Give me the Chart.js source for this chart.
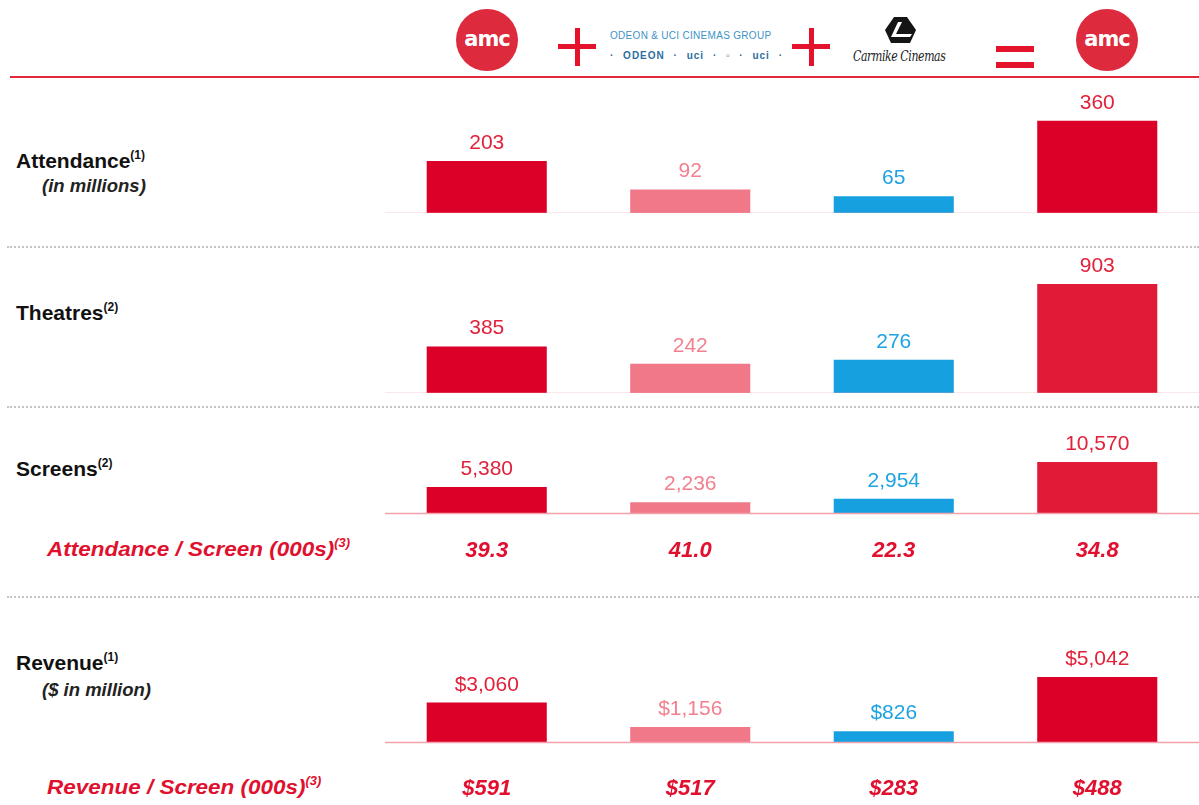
<!DOCTYPE html>
<html>
<head>
<meta charset="utf-8">
<script src="https://cdn.jsdelivr.net/npm/chart.js@4.4.1/dist/chart.umd.min.js"></script>
<style>
  html, body { margin: 0; padding: 0; background: #fff; }
  body { width: 1199px; height: 805px; position: relative; overflow: hidden; font-family: "Liberation Sans", Arial, sans-serif; }
  .abs { position: absolute; }
  canvas { position: absolute; left: 385px; }
  .title { font-weight: bold; font-size: 21px; color: #111; white-space: nowrap; }
  .title sup { font-size: 12px; vertical-align: 9px; }
  .sub { font-weight: bold; font-style: italic; font-size: 18.5px; color: #222; white-space: nowrap; }
  .ratio { font-weight: bold; font-style: italic; font-size: 21px; color: #e0102e; white-space: nowrap;
           transform: scaleX(1.07); transform-origin: left top; }
  .ratio sup { font-size: 12px; vertical-align: 9px; }
  .sep { position: absolute; left: 7px; width: 1192px; height: 0; border-top: 2px dotted #c4c4c4; }
  .amc { position: absolute; width: 62px; height: 62px; border-radius: 50%; background: #dd2a3c;
         color: #fff; font: bold 21px "DejaVu Sans", sans-serif; text-align: center; line-height: 60px; letter-spacing: -1px; }
  .plus { position: absolute; width: 38px; height: 38px; }
  .plus::before, .plus::after { content: ""; position: absolute; background: #e3132c; }
  .plus::before { left: 0; top: 16px; width: 38px; height: 5px; }
  .plus::after { left: 17px; top: 0; width: 5px; height: 38px; }
  .eq { position: absolute; width: 38px; height: 6px; background: #e3132c; }
</style>
</head>
<body>
<!-- header logos -->
<div class="amc" style="left:456px; top:9px;">amc</div>
<div class="plus" style="left:558px; top:28px;"></div>
<div class="abs" style="left:610px; top:30px; font-size:10px; color:#3e93c6; letter-spacing:0.3px; white-space:nowrap;">ODEON &amp; UCI CINEMAS GROUP</div>
<div class="abs" style="left:610px; top:50px; font-size:10px; font-weight:bold; color:#2e6d9e; white-space:nowrap; letter-spacing:1px; word-spacing:5px;">&middot; ODEON &middot; uci &middot; &#9643; &middot; uci &middot;</div>
<div class="plus" style="left:792px; top:28px;"></div>
<svg class="abs" style="left:885px; top:17px;" width="31" height="26" viewBox="0 0 31 26">
  <path d="M9 0 L22 0 L31 13 L25 26 L6 26 L0 13 Z" fill="#151515"/>
  <path d="M13 5 L17 5 L11 17 L27 17 L25 20 L6 20 Z" fill="#fff"/>
</svg>
<div class="abs" style="left:853px; top:48px; font: italic 14px 'DejaVu Serif', serif; color:#222; white-space:nowrap; letter-spacing:-0.5px; transform: scaleX(0.78); transform-origin: left top;">Carmike Cinemas</div>
<div class="eq" style="left:996px; top:46px;"></div>
<div class="eq" style="left:996px; top:62px;"></div>
<div class="amc" style="left:1076px; top:9px;">amc</div>
<div class="abs" style="left:10px; top:76px; width:1189px; height:2px; background:#e3283c;"></div>

<!-- row titles -->
<div class="abs title" style="left:16px; top:148px;">Attendance<sup>(1)</sup></div>
<div class="abs sub" style="left:42px; top:175px;">(in millions)</div>
<div class="sep" style="top:246px;"></div>
<div class="abs title" style="left:16px; top:300px;">Theatres<sup>(2)</sup></div>
<div class="sep" style="top:406px;"></div>
<div class="abs title" style="left:16px; top:456px;">Screens<sup>(2)</sup></div>
<div class="abs ratio" style="left:47px; top:536px;">Attendance / Screen (000s)<sup>(3)</sup></div>
<div class="sep" style="top:596px;"></div>
<div class="abs title" style="left:16px; top:650px;">Revenue<sup>(1)</sup></div>
<div class="abs sub" style="left:42px; top:679px;">($ in million)</div>
<div class="abs ratio" style="left:47px; top:774px;">Revenue / Screen (000s)<sup>(3)</sup></div>

<canvas id="c1" width="814" height="128" style="top:85px;"></canvas>
<canvas id="c2" width="814" height="145" style="top:248px;"></canvas>
<canvas id="c3" width="814" height="144" style="top:426px;"></canvas>
<canvas id="c4" width="814" height="166" style="top:639px;"></canvas>

<script>
// data
const companies = ["AMC", "Odeon & UCI", "Carmike", "AMC combined"];
const attendance = [203, 92, 65, 360];
const theatres = [385, 242, 276, 903];
const screens = [5380, 2236, 2954, 10570];
const revenue = [3060, 1156, 826, 5042];
const attendancePerScreen = [39.3, 41.0, 22.3, 34.8];
const revenuePerScreen = [591, 517, 283, 488];

const barColors = ["#dc0028", "#f07888", "#16a0df", "#dc0028"];
const barColorsAlt = ["#dc0028", "#f07888", "#16a0df", "#e11b37"];
const labelColors = ["#e2213a", "#f28090", "#1ea3e1", "#e2213a"];

// value labels above bars + baseline + optional ratio row
const decoPlugin = {
    id: "deco",
    afterDatasetsDraw(chart, args, opts) {
        const ctx = chart.ctx;
        const area = chart.chartArea;
        const y0 = chart.scales.y.getPixelForValue(0);
        ctx.save();
        ctx.strokeStyle = "#f3a2ab";
        ctx.lineWidth = 1.5;
        ctx.beginPath();
        ctx.moveTo(area.left, y0 + 0.5);
        ctx.lineTo(area.right, y0 + 0.5);
        ctx.stroke();

        const meta = chart.getDatasetMeta(0);
        ctx.font = "21px 'Liberation Sans', Arial, sans-serif";
        ctx.textAlign = "center";
        ctx.textBaseline = "alphabetic";
        meta.data.forEach((bar, i) => {
            ctx.fillStyle = labelColors[i];
            ctx.fillText(opts.fmt(chart.data.datasets[0].data[i]), bar.x, bar.y - 12);
        });

        if (opts.row) {
            ctx.font = "bold italic 22px 'Liberation Sans', Arial, sans-serif";
            ctx.fillStyle = "#e0102e";
            opts.row.forEach((v, i) => {
                const x = chart.scales.x.getPixelForValue(i);
                ctx.fillText(opts.rowFmt(v), x, y0 + opts.rowOffset);
            });
        }
        ctx.restore();
    }
};

function makeChart(id, values, max, colors, fmt, extra) {
    extra = extra || {};
    return new Chart(document.getElementById(id), {
        type: "bar",
        data: {
            labels: companies,
            datasets: [{
                data: values,
                backgroundColor: colors,
                borderWidth: 0,
                categoryPercentage: 1,
                barPercentage: 0.59
            }]
        },
        options: {
            responsive: false,
            animation: false,
            devicePixelRatio: 1,
            layout: { padding: { left: 0, right: 0, top: 0, bottom: extra.padBottom || 0 } },
            plugins: {
                legend: { display: false },
                tooltip: { enabled: false },
                deco: { fmt: fmt, row: extra.row, rowFmt: extra.rowFmt, rowOffset: extra.rowOffset }
            },
            scales: {
                x: { display: false },
                y: { display: false, min: 0, max: max }
            }
        },
        plugins: [decoPlugin]
    });
}

const plain = v => String(v);
const comma = v => v.toLocaleString("en-US");
const dollars = v => "$" + v.toLocaleString("en-US");

makeChart("c1", attendance, 500, barColors, plain);
makeChart("c2", theatres, 1200, barColorsAlt, plain);
makeChart("c3", screens, 18000, barColorsAlt, comma, {
    padBottom: 57, row: attendancePerScreen, rowFmt: v => v.toFixed(1), rowOffset: 44
});
makeChart("c4", revenue, 8000, barColors, dollars, {
    padBottom: 63, row: revenuePerScreen, rowFmt: v => "$" + v, rowOffset: 53
});
</script>
</body>
</html>
